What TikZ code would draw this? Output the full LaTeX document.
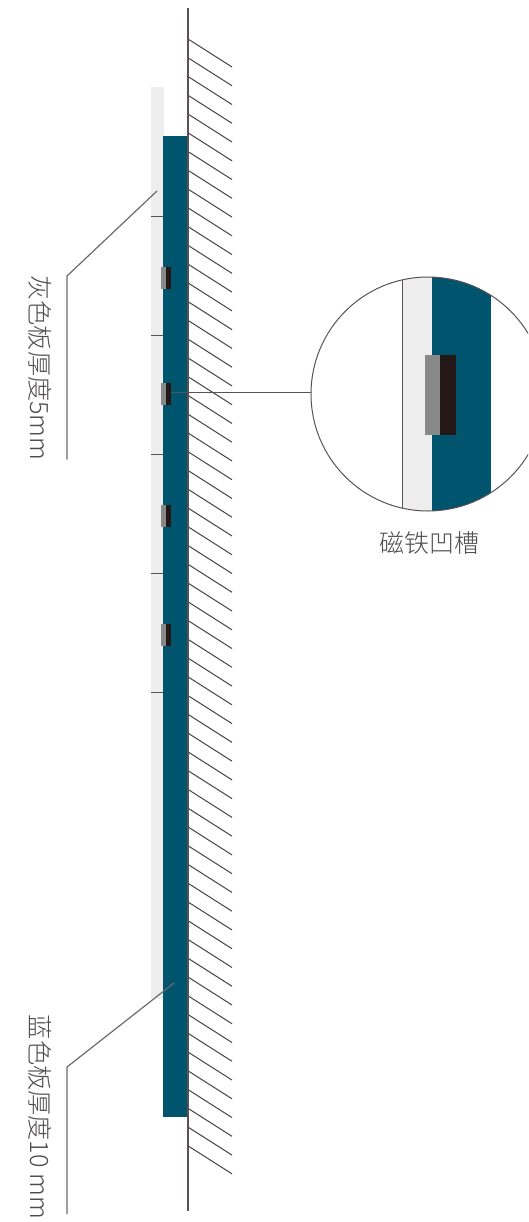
\documentclass[tikz,border=0pt]{standalone}
\usepackage{fontspec}
\newfontfamily\cjk[UprightFont=* Light]{Noto Sans CJK SC}
\definecolor{bluepanel}{HTML}{00546D}
\definecolor{graypanel}{HTML}{EEEEEE}
\definecolor{magnetgray}{HTML}{898989}
\definecolor{magnetdark}{HTML}{231815}
\definecolor{wallline}{HTML}{5A5252}
\definecolor{txt}{HTML}{4F4C4C}
\tikzset{
  wall/.style={draw=wallline,line width=2pt},
  hatch/.style={draw=wallline!80!black,line width=1pt},
  tick/.style={draw=wallline,line width=1pt},
  leader/.style={draw=black!58,line width=1.2pt},
  lbl/.style={text=txt,font=\cjk\fontsize{25.2}{26}\selectfont,inner sep=0pt,rotate=-90},
}
\begin{document}
\begin{tikzpicture}[x=1pt,y=-1pt]
\useasboundingbox (0,0) rectangle (528,1222);
% panels
\fill[graypanel] (151,87) rectangle (163.5,999);
\fill[bluepanel] (163,136) rectangle (188,1116.5);
% ticks
\foreach \yy in {216.5,335.5,454.5,573.5,692.5}
  \draw[tick] (151,\yy) -- (163,\yy);
% hatching
\foreach \i in {0,...,59}{
  \pgfmathsetmacro{\yy}{39+18.76*\i}
  \draw[hatch] (188,\yy) -- (232,\yy+28);
}
% wall
\draw[wall] (187.7,8) -- (187.7,1210.5);
% magnets
\foreach \yy in {278,394,516,635}{
  \fill[magnetgray] (160.5,\yy-11) rectangle (165.5,\yy+11);
  \fill[magnetdark] (165.5,\yy-11) rectangle (171,\yy+11);
}
% leader to circle
\coordinate (mag) at (171,392.5);
% detail circle
\node[circle,minimum size=234pt,inner sep=0pt] (det) at (428,394) {};
\draw[tick] (mag) -- (det.west |- mag);
\begin{scope}
  \clip (0,0) rectangle (528,1222);
  \begin{scope}
    \clip (428,394) circle (117);
    \fill[graypanel] (402.5,270) rectangle (431.5,520);
    \fill[bluepanel] (431.5,270) rectangle (491,520);
    \draw[wallline,line width=1pt] (402.5,270) -- (402.5,520);
    \fill[magnetgray] (424.5,355) rectangle (440,435);
    \fill[magnetdark] (440,355) rectangle (456,435);
  \end{scope}
  \draw[wallline,line width=1pt] (428,394) circle (117);
\end{scope}
\node[text=txt,font=\cjk\fontsize{25}{26}\selectfont,inner sep=0pt] (dlbl) at (429,543) {磁铁凹槽};
% labels
\node[lbl] (glbl) at (40.5,368) {灰色板厚度5mm};
\node[lbl] (blbl) at (40.5,1117) {蓝色板厚度10 mm};
% leaders
\coordinate (g1) at (157,191);
\coordinate (g2) at (67,276);
\coordinate (g3) at (67,459.5);
\coordinate (b1) at (174,983);
\coordinate (b2) at (67,1067);
\coordinate (b3) at (67,1214);
\draw[leader] (g1) -- (g2) -- (g3);
\draw[leader] (b1) -- (b2) -- (b3);
\end{tikzpicture}
\end{document}
